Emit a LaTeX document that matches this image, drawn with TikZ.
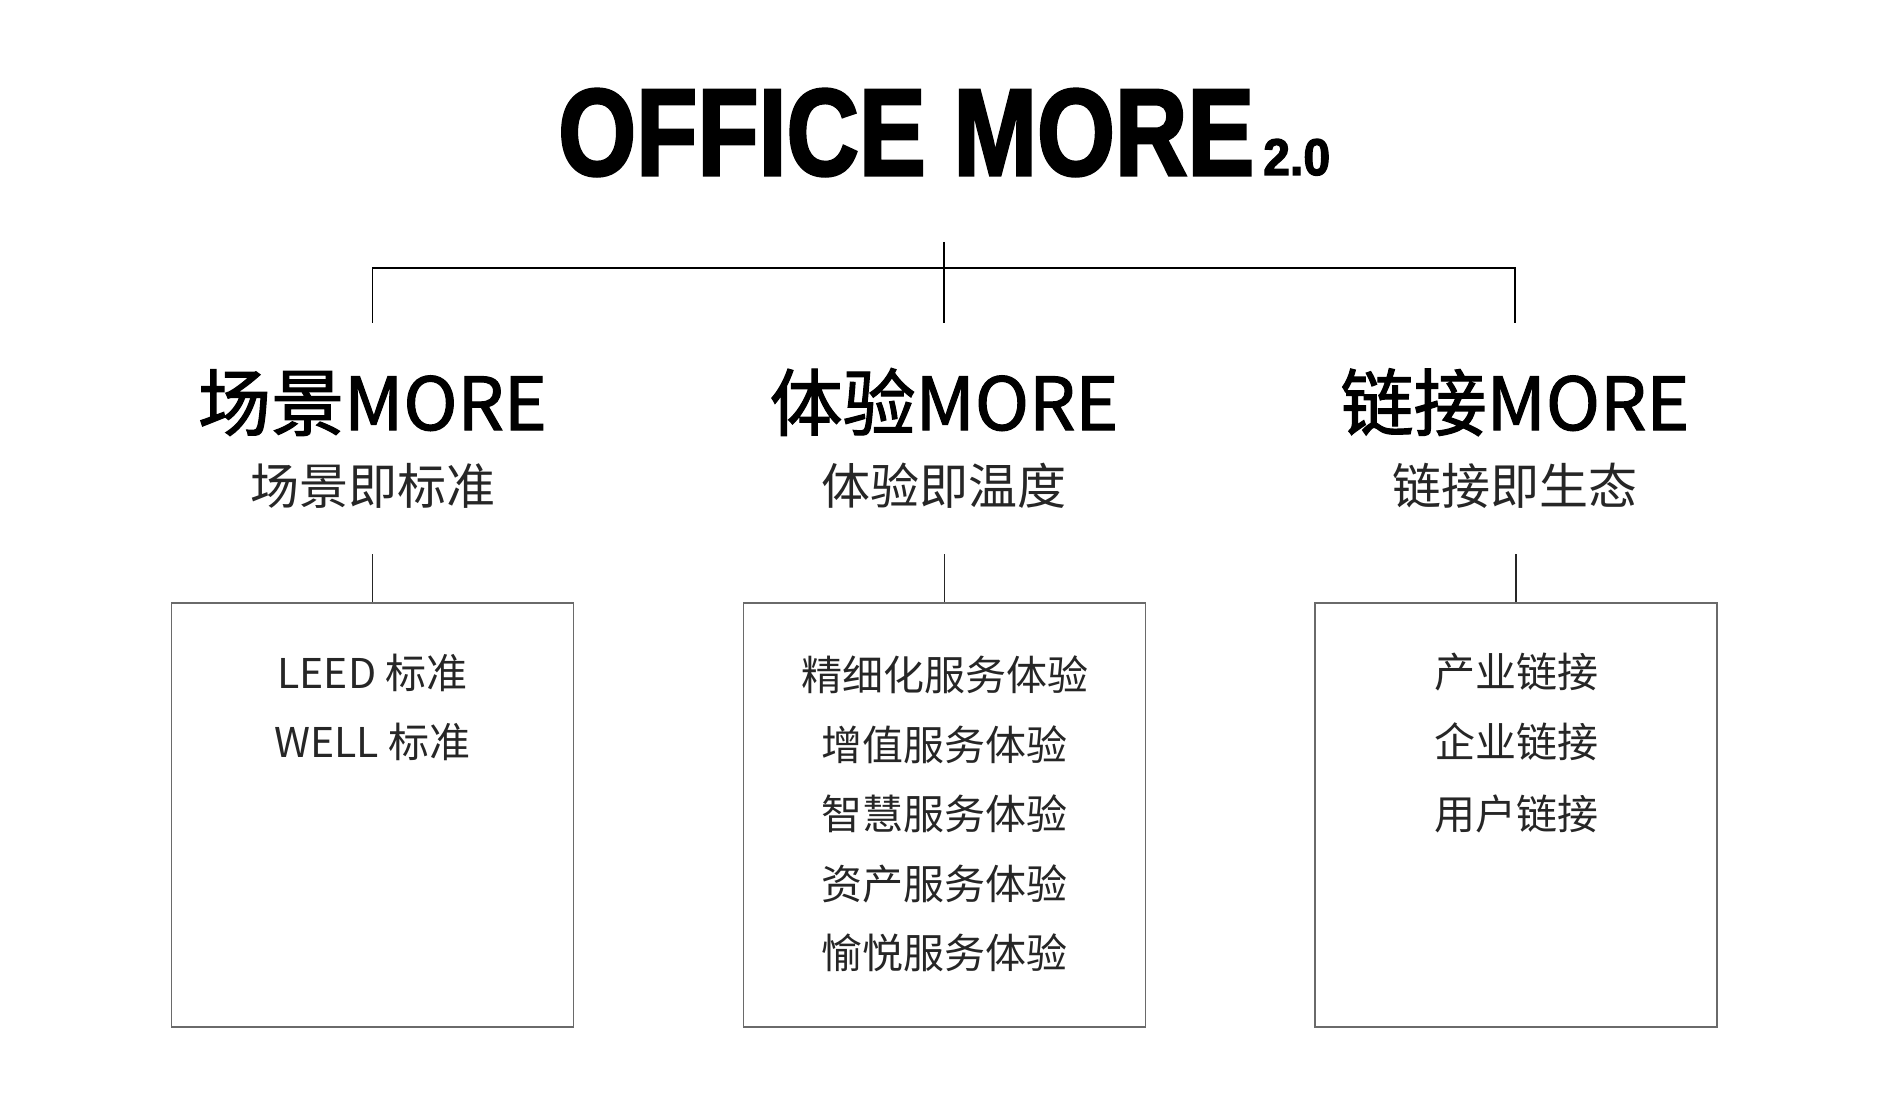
\documentclass[tikz,border=0pt]{standalone}
\usepackage{fontspec}
\setmainfont{Liberation Sans}
\newfontfamily\cjk{Noto Sans CJK SC}
\newfontfamily\cjkhead[FakeBold=1.6]{Noto Sans CJK SC}
\newfontfamily\titlefont[BoldFont={* Bold},BoldFeatures={FakeBold=2.5}]{Liberation Sans}
\definecolor{boxgray}{HTML}{6A6A6A}
\tikzset{
  treeline/.style={draw=black, line width=1.8pt},
  stemline/.style={draw=black!85, line width=1.3pt},
  itembox/.style={draw=boxgray, line width=1.4pt, minimum width=402pt, minimum height=424pt, inner sep=0pt},
  heading/.style={anchor=base, inner sep=0pt, font=\cjkhead\fontsize{73pt}{80pt}\selectfont},
  subhead/.style={anchor=base, inner sep=0pt, font=\cjk\fontsize{49pt}{55pt}\selectfont, text=black!85},
  item/.style={anchor=base, inner sep=0pt, font=\cjk\fontsize{41pt}{46pt}\selectfont, text=black!85}
}
\begin{document}
\begin{tikzpicture}[x=1pt,y=-1pt]
\useasboundingbox[fill=white] (0,0) rectangle (1890,1099);
% title
\node[anchor=base west, inner sep=0pt] (title) at (558,175)
  {\resizebox{696pt}{86pt}{\titlefont\bfseries OFFICE MORE}};
\node[anchor=base west, inner sep=0pt] (ver) at (1263,175)
  {\resizebox{67pt}{36pt}{\titlefont\bfseries 2.0}};
% tree
\coordinate (top) at (944,242);
\coordinate (hub) at (944,268);
\coordinate (c1) at (372.5,268);
\coordinate (c3) at (1515,268);
\coordinate (d1) at (372.5,323);
\coordinate (d2) at (944,323);
\coordinate (d3) at (1515,323);
\draw[treeline] (d1) -- (c1) -- (c3) -- (d3);
\draw[treeline] (top) -- (d2);
% headings
\node[heading] (h1) at (372.5,430) {场景MORE};
\node[heading] (h2) at (944,430) {体验MORE};
\node[heading] (h3) at (1515,430) {链接MORE};
\node[subhead] (s1) at (372.5,504) {场景即标准};
\node[subhead] (s2) at (944,504) {体验即温度};
\node[subhead] (s3) at (1515,504) {链接即生态};
% boxes
\node[itembox] (b1) at (372.5,815) {};
\node[itembox] (b2) at (944.5,815) {};
\node[itembox] (b3) at (1516,815) {};
\coordinate (t1) at (372.5,554);
\coordinate (t2) at (944.5,554);
\coordinate (t3) at (1516,554);
\draw[stemline] (t1) -- (b1.north);
\draw[stemline] (t2) -- (b2.north);
\draw[stemline] (t3) -- (b3.north);
% items
\node[item] (l1) at (372.5,688) {LEED 标准};
\node[item] (l2) at (372.5,757) {WELL 标准};
\node[item] (m1) at (944.5,690) {精细化服务体验};
\node[item] (m2) at (944.5,760) {增值服务体验};
\node[item] (m3) at (944.5,829) {智慧服务体验};
\node[item] (m4) at (944.5,899) {资产服务体验};
\node[item] (m5) at (944.5,968) {愉悦服务体验};
\node[item] (r1) at (1516,687) {产业链接};
\node[item] (r2) at (1516,757) {企业链接};
\node[item] (r3) at (1516,829) {用户链接};
\end{tikzpicture}
\end{document}
